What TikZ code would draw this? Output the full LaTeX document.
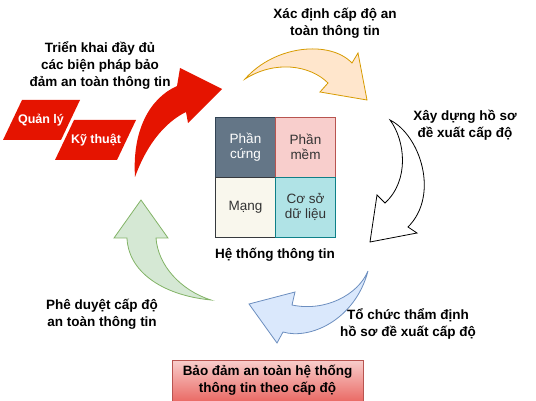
\documentclass[tikz,border=0pt]{standalone}
\usepackage{fontspec}
\setmainfont{Liberation Sans}
\definecolor{slate}{HTML}{647687}
\definecolor{slateline}{HTML}{314354}
\definecolor{pinkfill}{HTML}{F8CECC}
\definecolor{pinkline}{HTML}{B85450}
\definecolor{cream}{HTML}{F9F7ED}
\definecolor{creamline}{HTML}{36393D}
\definecolor{teal}{HTML}{B0E3E6}
\definecolor{tealline}{HTML}{0E8088}
\definecolor{orangefill}{HTML}{FFE6CC}
\definecolor{orangeline}{HTML}{D79B00}
\definecolor{bluefill}{HTML}{DAE8FC}
\definecolor{blueline}{HTML}{6C8EBF}
\definecolor{greenfill}{HTML}{D5E8D4}
\definecolor{greenline}{HTML}{82B366}
\definecolor{redfill}{HTML}{E51400}
\definecolor{gradred}{HTML}{EA6B66}
\definecolor{celltext}{HTML}{333333}
\begin{document}
\begin{tikzpicture}[x=1pt,y=-1pt,
  cell/.style={draw,minimum width=60pt,minimum height=60pt,align=center,
    text=celltext,font=\fontsize{13.5}{15.5}\selectfont},
  lbl/.style={align=center,font=\bfseries\fontsize{13.5}{17}\selectfont},
  tag/.style={text=white,font=\bfseries\fontsize{12.5}{14}\selectfont},
  blockarrow/.style={line width=0.8pt,line join=miter}]
  \useasboundingbox (0,0) rectangle (536,401);
  % the four parts of the system
  \node[cell,fill=slate,draw=slateline,text=white] (cell1) at (245.5,147) {Phần\\cứng};
  \node[cell,fill=pinkfill,draw=pinkline] (cell2) at (305.5,147) {Phần\\mềm};
  \node[cell,fill=cream,draw=creamline] (cell3) at (245.5,207) {Mạng};
  \node[cell,fill=teal,draw=tealline] (cell4) at (305.5,207) {Cơ sở\\dữ liệu};
  \node[lbl] (hethong) at (275,255) {Hệ thống thông tin};
  % curved block arrows round the cycle
  \draw[blockarrow,fill=orangefill,draw=orangeline]
    (245,79) .. controls (275,45) and (330,40) .. (352,63) -- (358,53)
    -- (367,100) -- (320,92) -- (328,83)
    .. controls (310,65) and (275,60) .. (245,79) -- cycle;
  \draw[blockarrow,fill=white,draw=black]
    (390,120) .. controls (420,135) and (440,195) .. (408,227) -- (417,233)
    -- (370,242) -- (377,195) -- (385,203)
    .. controls (410,180) and (405,140) .. (390,120) -- cycle;
  \draw[blockarrow,fill=bluefill,draw=blueline]
    (368,271) .. controls (355,320) and (310,340) .. (283,332) -- (277,343)
    -- (249,304) -- (295,292) -- (292,305)
    .. controls (325,312) and (358,295) .. (368,271) -- cycle;
  \draw[blockarrow,fill=greenfill,draw=greenline]
    (211,300) .. controls (160,295) and (128,270) .. (127,238) -- (114,238)
    -- (141,200) -- (168,238) -- (156,238)
    .. controls (158,265) and (180,290) .. (211,300) -- cycle;
  \fill[redfill]
    (135,177) .. controls (132,130) and (150,98) .. (177,86) -- (180,68)
    -- (222,89) -- (188,123) -- (186,112)
    .. controls (178,116) and (152,130) .. (135,177) -- cycle;
  % labelling the steps
  \node[lbl] (lbl1) at (335,23.5) {Xác định cấp độ an\\toàn thông tin};
  \node[lbl] (lbl2) at (465,125) {Xây dựng hồ sơ\\đề xuất cấp độ};
  \node[lbl] (lbl3) at (408,323.5) {Tổ chức thẩm định\\hồ sơ đề xuất cấp độ};
  \node[lbl] (lbl4) at (102,314) {Phê duyệt cấp độ\\an toàn thông tin};
  \node[lbl] (lbl5) at (100,65) {Triển khai đầy đủ\\các biện pháp bảo\\đảm an toàn thông tin};
  % the two kinds of measures
  \fill[redfill] (22,100) -- (80,100) -- (61,140) -- (3,140) -- cycle;
  \node[tag] (quanly) at (41,120) {Quản lý};
  \fill[redfill] (74,120) -- (136,120) -- (117,160) -- (55,160) -- cycle;
  \node[tag] (kythuat) at (96,140) {Kỹ thuật};
  % the goal
  \node[draw=pinkline,top color=pinkfill,bottom color=gradred,lbl,
    minimum width=191pt,minimum height=41pt] (baodam) at (267.5,380.5)
    {Bảo đảm an toàn hệ thống\\thông tin theo cấp độ};
\end{tikzpicture}
\end{document}
